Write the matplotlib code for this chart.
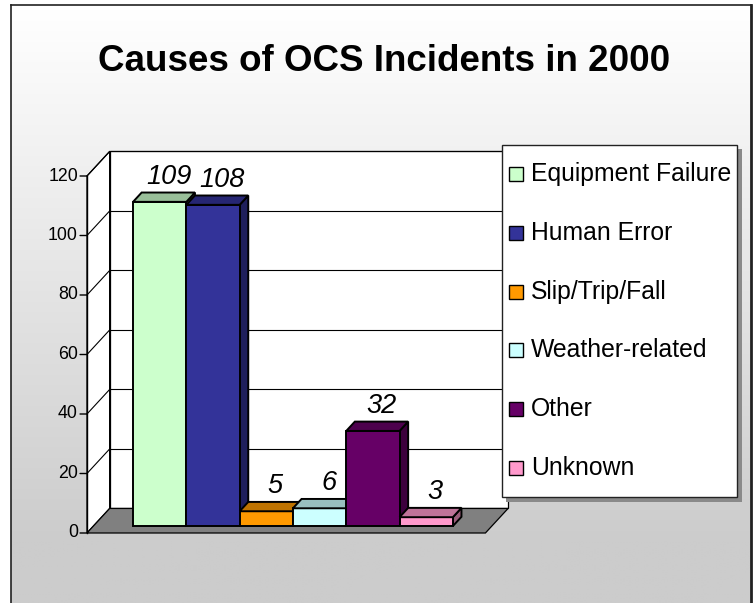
import matplotlib
matplotlib.use('Agg')
import matplotlib.pyplot as plt
import numpy as np
from matplotlib.patches import Polygon, Rectangle
from matplotlib.colors import to_rgb

# ---------------- data ----------------
categories = ['Equipment Failure', 'Human Error', 'Slip/Trip/Fall',
              'Weather-related', 'Other', 'Unknown']
values = [109, 108, 5, 6, 32, 3]
colors = ['#CCFFCC', '#333399', '#FF9900', '#CCFFFF', '#660066', '#FF99CC']
yticks = [0, 20, 40, 60, 80, 100, 120]
title = 'Causes of OCS Incidents in 2000'

plt.rcParams['font.family'] = ['Liberation Sans', 'DejaVu Sans']

W, H = 754, 603
fig = plt.figure(figsize=(W / 100, H / 100), dpi=100)
fig.patch.set_facecolor('white')

# ---------------- background (pixel layout axes) ----------------
bg = fig.add_axes([0, 0, 1, 1], zorder=0)
bg.set_xlim(0, W)
bg.set_ylim(H, 0)
bg.axis('off')
rows = np.arange(H)
t = np.clip((rows - 5) / 535.0, 0, 1)
g = 1.0 - t * 0.20
grad = np.repeat(g[:, None], 2, axis=1)
grad = np.dstack([grad, grad, grad])
bg.imshow(grad, extent=[11, 751, H, 5], aspect='auto', interpolation='bilinear', zorder=0)
bg.plot([11, 11], [5, H], color='#222222', lw=1.2, zorder=1)
bg.plot([11, 751], [5, 5], color='#222222', lw=1.2, zorder=1)
bg.plot([751, 751], [5, H], color='#222222', lw=2.0, zorder=1)
bg.text(384, 71, title, ha='center', va='baseline', fontsize=26.5,
        fontweight='bold', color='black', zorder=2)

# ---------------- 3D-like chart axes (data units) ----------------
ax = fig.add_axes([0, 0, 1, 1], zorder=1)
ax.patch.set_alpha(0)
ax.set_xlim(-2.377, 11.769)
ax.set_ylim(-23.53, 179.16)
ax.axis('off')

DX, DY = 0.425, 8.25          # depth offset (x units, value units)
D0, D1 = 0.28, 0.66           # bar depth span
X0, X1 = -0.745, len(values) + 0.73
VTOP = 120


def P(x, v, d):
    return (x + d * DX, v + d * DY)


def poly(pts, fc, ec='black', lw=0.9, z=1):
    ax.add_patch(Polygon(pts, closed=True, facecolor=fc, edgecolor=ec,
                         linewidth=lw, joinstyle='miter', zorder=z))

# walls and floor
poly([P(X0, 0, 1), P(X1, 0, 1), P(X1, VTOP, 1), P(X0, VTOP, 1)], 'white', z=1)
poly([P(X0, 0, 0), P(X0, 0, 1), P(X0, VTOP, 1), P(X0, VTOP, 0)], 'white', z=1)
poly([P(X0, 0, 0), P(X1, 0, 0), P(X1, 0, 1), P(X0, 0, 1)], '#808080', z=2)

for v in yticks[1:]:
    a, b = P(X0, v, 1), P(X1, v, 1)
    ax.plot([a[0], b[0]], [a[1], b[1]], color='black', lw=0.8, zorder=1.5)
    a, b = P(X0, v, 0), P(X0, v, 1)
    ax.plot([a[0], b[0]], [a[1], b[1]], color='black', lw=0.8, zorder=1.5)

# front value axis
a, b = P(X0, 0, 0), P(X0, VTOP, 0)
ax.plot([a[0], b[0]], [a[1], b[1]], color='black', lw=1.0, zorder=3)
for v in yticks:
    ax.annotate('', xy=P(X0, v, 0), xytext=(-5, 0), textcoords='offset points',
                arrowprops=dict(arrowstyle='-', color='black', lw=1.0,
                                shrinkA=0, shrinkB=0), zorder=3)
    ax.annotate(str(v), xy=P(X0, v, 0), xytext=(-6.5, 0), textcoords='offset points',
                ha='right', va='center', fontsize=12.8, color='black', zorder=3)


def shade(c, f):
    r, g_, b = to_rgb(c)
    return (r * f, g_ * f, b * f)

# bars
for i, (v, c) in enumerate(zip(values, colors)):
    x0, x1 = i, i + 1
    z = 4 + i
    poly([P(x1, 0, D0), P(x1, 0, D1), P(x1, v, D1), P(x1, v, D0)],
         shade(c, 0.6), lw=1.4, z=z)
    poly([P(x0, 0, D0), P(x1, 0, D0), P(x1, v, D0), P(x0, v, D0)],
         c, lw=1.4, z=z)
    poly([P(x0, v, D0), P(x1, v, D0), P(x1, v, D1), P(x0, v, D1)],
         shade(c, 0.75), lw=1.4, z=z)
    ax.annotate(str(v), xy=P(i + 0.5, v, D0), xytext=(6.5, 13),
                textcoords='offset points', ha='center', va='baseline',
                fontsize=19.5, style='italic', color='black', zorder=20)

# ---------------- legend (pixel layout axes) ----------------
lg = fig.add_axes([0, 0, 1, 1], zorder=3)
lg.patch.set_alpha(0)
lg.set_xlim(0, W)
lg.set_ylim(H, 0)
lg.axis('off')
lg.add_patch(Rectangle((506, 149), 236, 353, facecolor='#8a8a8a', edgecolor='none', zorder=1))
lg.add_patch(Rectangle((502, 145), 235, 352, facecolor='white', edgecolor='#222222',
                       linewidth=1.0, zorder=2))
row0, step = 174, 58.8
for k, (name, c) in enumerate(zip(categories, colors)):
    yc = row0 + k * step
    lg.add_patch(Rectangle((509, yc - 7), 14, 14, facecolor=c, edgecolor='black',
                           linewidth=1.0, zorder=3))
    lg.text(531, yc, name, ha='left', va='center', fontsize=17.8, color='black', zorder=3)

fig.savefig('out.png', dpi=100)
